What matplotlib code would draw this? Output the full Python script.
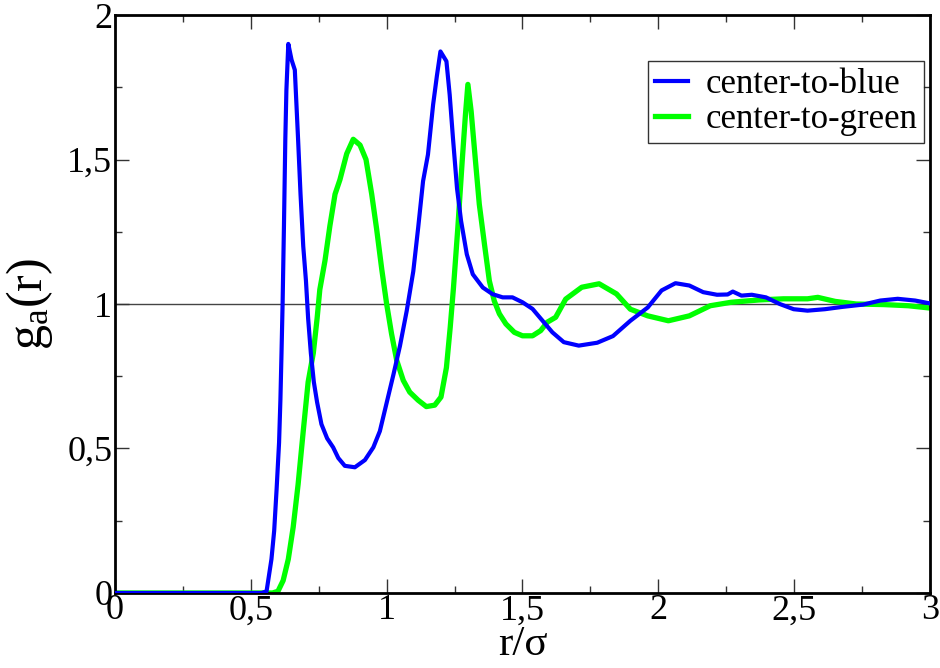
"""
g_a(r) for center-to-blue and center-to-green, Grace-like styling.
"""
import matplotlib
matplotlib.use("Agg")
import matplotlib.pyplot as plt
from matplotlib.ticker import MultipleLocator, FuncFormatter

# --- Data ---
r_blue = [0.0, 0.54, 0.558, 0.576, 0.586, 0.595, 0.604, 0.609, 0.613, 0.617, 0.622,
          0.627, 0.631, 0.638, 0.65, 0.662, 0.668, 0.674, 0.683, 0.693, 0.703,
          0.711, 0.721, 0.732, 0.744, 0.76, 0.781, 0.803, 0.822, 0.846, 0.883,
          0.92, 0.951, 0.975, 1.0, 1.025, 1.049, 1.074, 1.098, 1.116, 1.134,
          1.152, 1.171, 1.185, 1.198, 1.22, 1.232, 1.244, 1.259, 1.274, 1.295,
          1.317, 1.354, 1.39, 1.427, 1.463, 1.5, 1.537, 1.573, 1.61, 1.652,
          1.707, 1.775, 1.833, 1.897, 1.961, 2.012, 2.063, 2.114, 2.165, 2.216,
          2.255, 2.274, 2.306, 2.344, 2.396, 2.447, 2.498, 2.549, 2.613, 2.677,
          2.754, 2.817, 2.881, 2.945, 3.0]
g_blue = [0.0, 0.0, 0.006, 0.117, 0.215, 0.36, 0.52, 0.67, 0.83, 1.0, 1.27,
          1.57, 1.74, 1.90, 1.845, 1.81, 1.69, 1.57, 1.38, 1.20, 1.08,
          0.95, 0.83, 0.73, 0.66, 0.584, 0.535, 0.504, 0.467, 0.44, 0.435,
          0.46, 0.504, 0.56, 0.658, 0.756, 0.855, 0.977, 1.113, 1.264, 1.425,
          1.517, 1.69, 1.79, 1.874, 1.84, 1.724, 1.575, 1.40, 1.287, 1.172,
          1.103, 1.057, 1.034, 1.023, 1.023, 1.006, 0.983, 0.943, 0.902, 0.868,
          0.856, 0.866, 0.889, 0.942, 0.988, 1.047, 1.072, 1.064, 1.041, 1.032,
          1.033, 1.043, 1.029, 1.032, 1.023, 1.0, 0.982, 0.977, 0.982, 0.99,
          0.998, 1.012, 1.018, 1.012, 1.002]

r_green = [0.0, 0.58, 0.6, 0.619, 0.638, 0.656, 0.674, 0.693, 0.711, 0.73, 0.744,
           0.754, 0.773, 0.791, 0.81, 0.828, 0.853, 0.877, 0.902, 0.924, 0.945,
           0.963, 0.982, 1.0, 1.018, 1.037, 1.061, 1.085, 1.116, 1.146, 1.177,
           1.20, 1.22, 1.234, 1.246, 1.262, 1.278, 1.29, 1.299, 1.311, 1.327,
           1.341, 1.36, 1.378, 1.396, 1.415, 1.439, 1.47, 1.5, 1.537, 1.567,
           1.591, 1.622, 1.659, 1.718, 1.782, 1.846, 1.897, 1.961, 2.037, 2.114,
           2.191, 2.268, 2.37, 2.46, 2.549, 2.587, 2.651, 2.728, 2.83, 2.92, 3.0]
g_green = [0.0, 0.0, 0.006, 0.043, 0.117, 0.228, 0.375, 0.56, 0.73, 0.83, 0.95,
           1.05, 1.15, 1.27, 1.38, 1.43, 1.52, 1.57, 1.55, 1.50, 1.38,
           1.26, 1.12, 1.0, 0.897, 0.805, 0.736, 0.695, 0.667, 0.645, 0.65,
           0.678, 0.78, 0.92, 1.057, 1.264, 1.494, 1.655, 1.76, 1.667, 1.494,
           1.345, 1.207, 1.08, 1.011, 0.966, 0.931, 0.902, 0.89, 0.89, 0.908,
           0.937, 0.954, 1.017, 1.058, 1.07, 1.035, 0.982, 0.959, 0.942, 0.959,
           0.994, 1.006, 1.014, 1.018, 1.018, 1.023, 1.009, 1.0, 0.998, 0.994, 0.986]

labels = ["center-to-blue", "center-to-green"]
C_BLUE = "#0000ff"
C_GREEN = "#00ff00"

plt.rcParams.update({
    "font.family": "serif",
    "font.serif": ["Liberation Serif", "DejaVu Serif"],
    "mathtext.fontset": "custom",
    "mathtext.rm": "Liberation Serif",
    "mathtext.it": "Liberation Serif",
    "mathtext.bf": "Liberation Serif",
})


def comma_fmt(v, _pos):
    s = f"{v:g}"
    return s.replace(".", ",")


fig = plt.figure(figsize=(9.4, 6.68), dpi=100)
ax = fig.add_axes([0.1223, 0.1123, 0.8671, 0.8652])

ax.axhline(1.0, color="#444444", linewidth=1.0, zorder=1)
ax.plot(r_blue, g_blue, color=C_BLUE, linewidth=3.0, label=labels[0], zorder=3)
ax.plot(r_green, g_green, color=C_GREEN, linewidth=3.8, label=labels[1], zorder=2)

ax.set_xlim(0, 3)
ax.set_ylim(0, 2)
ax.xaxis.set_major_locator(MultipleLocator(0.5))
ax.xaxis.set_minor_locator(MultipleLocator(0.25))
ax.yaxis.set_major_locator(MultipleLocator(0.5))
ax.yaxis.set_minor_locator(MultipleLocator(0.25))
ax.xaxis.set_major_formatter(FuncFormatter(comma_fmt))
ax.yaxis.set_major_formatter(FuncFormatter(comma_fmt))

ax.tick_params(which="both", direction="in", top=True, right=True,
               color="#333333", labelsize=26)
ax.tick_params(which="major", length=10, width=1.0, pad=2)
ax.tick_params(axis="x", which="major", pad=1)
ax.tick_params(which="minor", length=5, width=1.0)
for sp in ax.spines.values():
    sp.set_linewidth(2.0)

ax.set_xlabel(r"r/σ", fontsize=31, labelpad=-1)
ax.set_ylabel(r"g$_\mathregular{a}$(r)", fontsize=36, labelpad=9)

leg = ax.legend(loc="upper right", bbox_to_anchor=(0.9926, 0.92), fontsize=25,
                frameon=True, fancybox=False, handlelength=0.95,
                handletextpad=0.5, borderpad=0.2, labelspacing=0.05,
                borderaxespad=0)
leg.get_frame().set_edgecolor("black")
leg.get_frame().set_linewidth(1.0)

fig.savefig("out.png", dpi=100)
